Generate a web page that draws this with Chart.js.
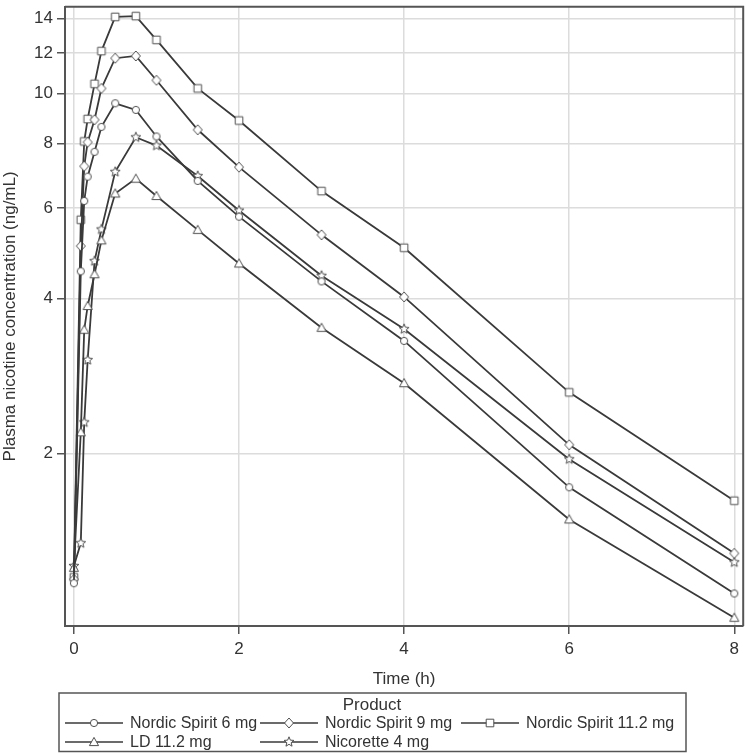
<!DOCTYPE html>
<html>
<head>
<meta charset="utf-8">
<script src="https://cdn.jsdelivr.net/npm/chart.js@4"></script>
<style>
  html, body { margin: 0; padding: 0; background: #fff; }
</style>
</head>
<body>
<canvas id="pkChart" width="750" height="753"></canvas>
<script>
// sampling times (h)
const hours = [0, 5/60, 7.5/60, 10/60, 0.25, 20/60, 0.5, 0.75, 1, 1.5, 2, 3, 4, 6, 8];

// plasma nicotine (ng/mL)
const ns6   = [1.12, 4.52, 6.19, 6.90, 7.71, 8.62, 9.58, 9.30, 8.26, 6.77, 5.77, 4.32, 3.31, 1.72, 1.07];
const ns9   = [1.14, 5.06, 7.23, 8.05, 8.90, 10.24, 11.72, 11.84, 10.62, 8.51, 7.20, 5.32, 4.03, 2.08, 1.28];
const ns112 = [1.15, 5.69, 8.08, 8.93, 10.45, 12.10, 14.10, 14.15, 12.72, 10.24, 8.87, 6.47, 5.02, 2.63, 1.62];
const ld112 = [1.20, 2.20, 3.48, 3.87, 4.46, 5.19, 6.40, 6.84, 6.33, 5.44, 4.68, 3.51, 2.74, 1.49, 0.96];
const nic4  = [1.21, 1.34, 2.30, 3.04, 4.73, 5.45, 7.05, 8.23, 7.93, 6.92, 5.93, 4.43, 3.49, 1.95, 1.23];

const products = ['Nordic Spirit 6 mg', 'Nordic Spirit 9 mg', 'Nordic Spirit 11.2 mg', 'LD 11.2 mg', 'Nicorette 4 mg'];
const markers = ['circle', 'diamond', 'square', 'triangle', 'star'];

const yTicks = [2, 4, 6, 8, 10, 12, 14];
const xTicks = [0, 2, 4, 6, 8];

const FONT = '"Liberation Sans", Arial, sans-serif';
const LINE = '#3a3a3a';
const MARK = '#505050';

function markerCanvas(kind) {
  const s = 14, m = 7;
  const c = document.createElement('canvas');
  c.width = s; c.height = s;
  const g = c.getContext('2d');
  g.strokeStyle = MARK;
  g.fillStyle = '#fff';
  g.lineWidth = 1;
  g.beginPath();
  if (kind === 'circle') {
    g.arc(m, m, 3.6, 0, Math.PI * 2);
  } else if (kind === 'diamond') {
    g.moveTo(m, m - 5); g.lineTo(m + 4.5, m); g.lineTo(m, m + 5); g.lineTo(m - 4.5, m); g.closePath();
  } else if (kind === 'square') {
    g.rect(m - 3.8, m - 3.8, 7.6, 7.6);
  } else if (kind === 'triangle') {
    g.moveTo(m, m - 4.6); g.lineTo(m + 4.6, m + 3.6); g.lineTo(m - 4.6, m + 3.6); g.closePath();
  } else {
    for (let i = 0; i < 10; i++) {
      const r = i % 2 ? 2.3 : 5.2;
      const a = -Math.PI / 2 + i * Math.PI / 5;
      g.lineTo(m + r * Math.cos(a), m + r * Math.sin(a));
    }
    g.closePath();
  }
  g.fill();
  g.stroke();
  return c;
}

const markerImgs = markers.map(markerCanvas);
const series = [ns6, ns9, ns112, ld112, nic4];

const datasets = series.map((vals, i) => ({
  label: products[i],
  data: hours.map((h, j) => ({ x: h, y: vals[j] })),
  borderColor: LINE,
  borderWidth: 1.8,
  pointStyle: markerImgs[i],
  pointRadius: 5,
  fill: false,
  tension: 0
}));

// frame + legend box under the plot
const legendBox = {
  id: 'legendBox',
  afterDraw(chart) {
    const ctx = chart.ctx;
    const a = chart.chartArea;
    ctx.save();
    ctx.strokeStyle = '#555';
    ctx.lineWidth = 2;
    ctx.beginPath();
    ctx.moveTo(a.left, a.top);
    ctx.lineTo(a.right, a.top);
    ctx.lineTo(a.right, a.bottom);
    ctx.stroke();

    ctx.lineWidth = 1.5;
    ctx.strokeRect(59, 693, 627, 58.5);
    ctx.fillStyle = '#333';
    ctx.font = '17px ' + FONT;
    ctx.textAlign = 'center';
    ctx.textBaseline = 'middle';
    ctx.fillText('Product', 372, 705);

    ctx.font = '16px ' + FONT;
    ctx.textAlign = 'left';
    const cols = [65, 260, 461];
    products.forEach((p, i) => {
      const x0 = cols[i % 3];
      const y = i < 3 ? 723 : 742;
      ctx.strokeStyle = LINE;
      ctx.lineWidth = 1.5;
      ctx.beginPath();
      ctx.moveTo(x0, y);
      ctx.lineTo(x0 + 58, y);
      ctx.stroke();
      ctx.drawImage(markerImgs[i], x0 + 29 - 7, y - 7);
      ctx.fillText(p, x0 + 65, y + 1);
    });
    ctx.restore();
  }
};

new Chart(document.getElementById('pkChart'), {
  type: 'line',
  data: { datasets },
  options: {
    responsive: false,
    animation: false,
    devicePixelRatio: 1,
    layout: { padding: { top: 1, right: 1, bottom: 60, left: 0 } },
    plugins: {
      legend: { display: false },
      tooltip: { enabled: false }
    },
    scales: {
      x: {
        type: 'linear',
        min: -0.108,
        max: 8.108,
        afterBuildTicks: ax => { ax.ticks = xTicks.map(v => ({ value: v })); },
        afterFit: ax => { ax.height = 67; ax.paddingLeft = 0; ax.paddingRight = 0; },
        grid: { color: '#dcdcdc', lineWidth: 1.5, tickLength: 8, tickColor: '#555' },
        border: { color: '#555', width: 2 },
        ticks: { color: '#333', font: { family: FONT, size: 17 }, padding: 5, maxRotation: 0 },
        title: { display: true, text: 'Time (h)', color: '#333', font: { family: FONT, size: 17 }, padding: { top: 0, bottom: 3 } }
      },
      y: {
        type: 'logarithmic',
        min: 0.925,
        max: 14.75,
        afterBuildTicks: ax => { ax.ticks = yTicks.map(v => ({ value: v })); },
        afterFit: ax => { ax.width = 65; ax.paddingTop = 0; ax.paddingBottom = 0; },
        grid: { color: '#dcdcdc', lineWidth: 1.5, tickLength: 8, tickColor: '#555' },
        border: { color: '#555', width: 2 },
        ticks: { color: '#333', font: { family: FONT, size: 17 }, padding: 4, callback: v => String(v) },
        title: { display: true, text: 'Plasma nicotine concentration (ng/mL)', color: '#333', font: { family: FONT, size: 17 }, padding: 0 }
      }
    }
  },
  plugins: [legendBox]
});
</script>
</body>
</html>
